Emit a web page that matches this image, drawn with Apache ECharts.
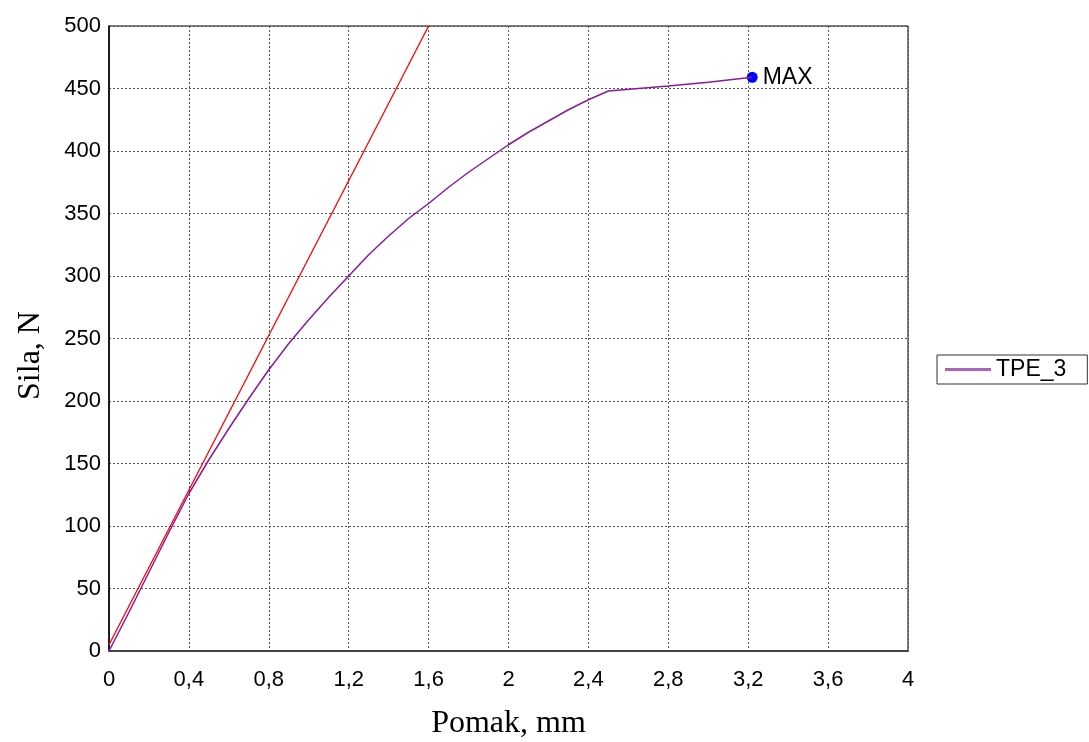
<!DOCTYPE html>
<html>
<head>
<meta charset="utf-8">
<script src="https://cdn.jsdelivr.net/npm/echarts@6/dist/echarts.min.js"></script>
<style>
  html, body, #main { width: 100%; height: 100%; margin: 0; background: #fff; }
</style>
</head>
<body>
<div id="main"></div>
<script>
// Pomak (mm) / Sila (N)
var pomak = [0, 0.1, 0.2, 0.3, 0.4, 0.5, 0.6, 0.7, 0.8, 0.9, 1.0, 1.1, 1.2, 1.3, 1.4, 1.5, 1.6, 1.7, 1.8, 1.9, 2.0, 2.1, 2.2, 2.3, 2.4, 2.5, 2.8, 3.0, 3.22];
var sila  = [0, 31, 63, 95, 126, 153, 178, 202, 225, 246, 265, 283, 300, 317, 332, 346, 358, 371, 383, 394, 405, 415, 424, 433, 441, 448, 452, 455, 459];
// tangent (red) line
var tangentX = [0, 1.6];
var tangentY = [5, 500];
var maxPoint = [3.22, 459];

var chart = echarts.init(document.getElementById('main'));

function pairs(xs, ys) {
    return xs.map(function (x, i) { return [x, ys[i]]; });
}

var labelFont = { fontFamily: 'Liberation Sans', fontSize: 22, color: '#000' };
var dotted = { show: true, lineStyle: { color: '#555', type: [2, 2], width: 1 } };

chart.setOption({
    animation: false,
    grid: {
        left: 109, top: 26, right: 181, bottom: 91,
        outerBoundsMode: 'none', containLabel: false,
        show: true, borderColor: '#000', borderWidth: 1
    },
    legend: {
        left: 937, top: 355,
        padding: [3, 21, 3, 8],
        borderColor: '#333', borderWidth: 1,
        itemWidth: 46, itemHeight: 14,
        textStyle: { fontFamily: 'Liberation Sans', fontSize: 23, color: '#000' },
        data: [{ name: 'TPE_3', icon: 'path://M0,0L1,0L1,0.06L0,0.06Z', itemStyle: { color: '#b060c0' } }]
    },
    xAxis: {
        type: 'value', min: 0, max: 4, interval: 0.4,
        name: 'Pomak, mm', nameLocation: 'middle', nameGap: 57,
        nameTextStyle: { fontFamily: 'Liberation Serif', fontSize: 32, color: '#000' },
        axisLine: { lineStyle: { color: '#444', width: 2 } },
        axisTick: { show: false },
        axisLabel: Object.assign({ margin: 18, formatter: function (v) {
            return String(Math.round(v * 10) / 10).replace('.', ',');
        } }, labelFont),
        splitLine: dotted
    },
    yAxis: {
        type: 'value', min: 0, max: 500, interval: 50,
        name: 'Sila, N', nameLocation: 'middle', nameGap: 62,
        nameTextStyle: { fontFamily: 'Liberation Serif', fontSize: 32, color: '#000', padding: [0, 34, 0, 0] },
        axisLine: { show: true, lineStyle: { color: '#000', width: 1.5 } },
        axisTick: { show: false },
        axisLabel: Object.assign({ margin: 8 }, labelFont),
        splitLine: dotted
    },
    series: [
        {
            name: 'tangent', type: 'line', data: pairs(tangentX, tangentY),
            symbol: 'none', clip: true,
            lineStyle: { color: '#ff0000', width: 1.3 }
        },
        {
            name: 'TPE_3', type: 'line', data: pairs(pomak, sila),
            symbol: 'none', smooth: false, itemStyle: { color: '#8b1a9b' },
            lineStyle: { color: '#8b1a9b', width: 1.5 }
        },
        {
            name: 'MAX', type: 'scatter', data: [maxPoint],
            symbolSize: 11, itemStyle: { color: '#0000ff', opacity: 1 },
            label: {
                show: true, position: 'right', distance: 5,
                formatter: 'MAX', fontFamily: 'Liberation Sans', fontSize: 23, color: '#000'
            }
        }
    ]
});
</script>
</body>
</html>
